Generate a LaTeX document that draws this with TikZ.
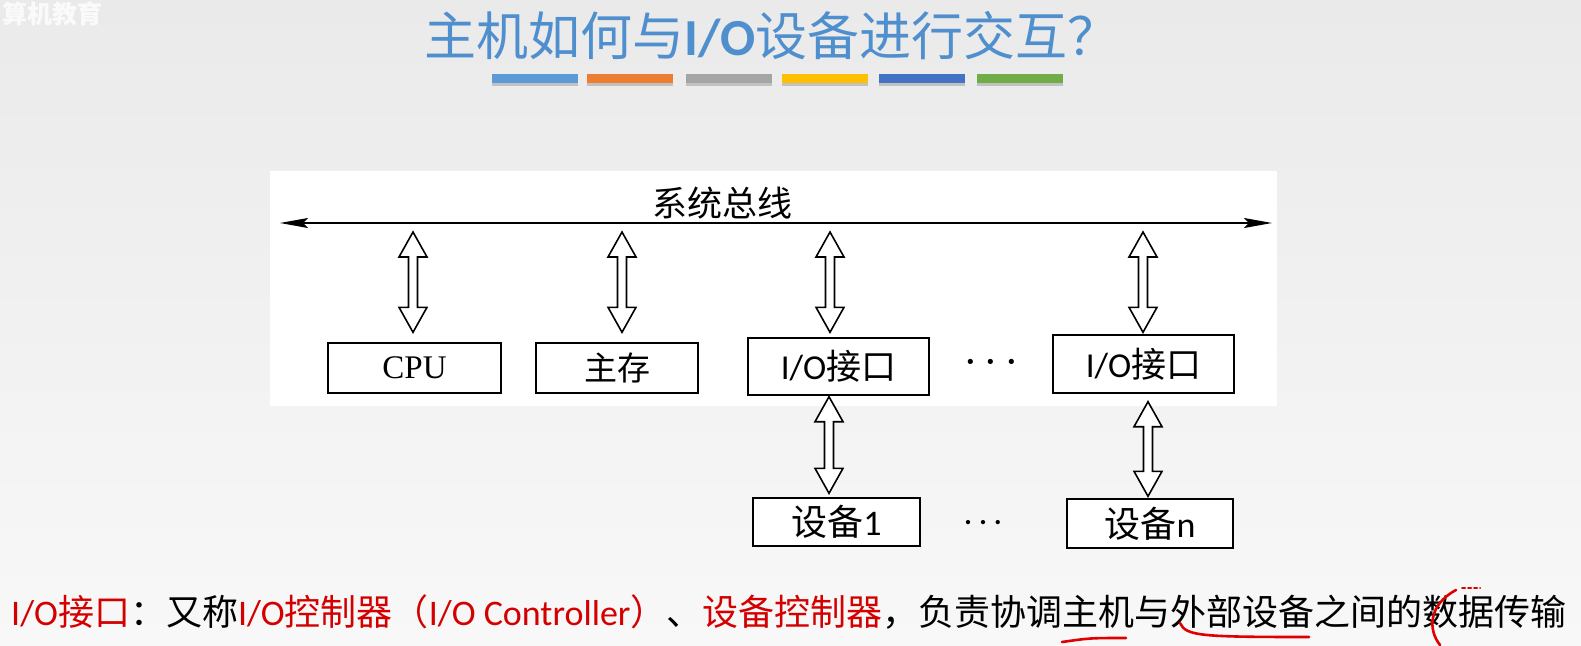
\documentclass[tikz,border=0pt]{standalone}
\usepackage{fontspec}
\setmainfont{Carlito}
\newfontfamily\cjk{Noto Sans CJK SC}
\newfontfamily\lat{Carlito}
\newfontfamily\tms{Liberation Serif}
\usetikzlibrary{arrows.meta,calc}

\definecolor{bgtop}{HTML}{EAEAEA}
\definecolor{bgbot}{HTML}{F8F8F8}
\definecolor{titleblue}{HTML}{4F8FCE}
\definecolor{barA}{HTML}{5B9BD5}
\definecolor{barB}{HTML}{ED7D31}
\definecolor{barC}{HTML}{A5A5A5}
\definecolor{barD}{HTML}{FFC000}
\definecolor{barE}{HTML}{4472C4}
\definecolor{barF}{HTML}{70AD47}
\definecolor{hlred}{HTML}{D40000}
\definecolor{penred}{HTML}{E00000}

% hollow double-headed arrow between two points on one vertical line
\newcommand\hollowarrow[2]{%
  \draw[hollow] let \p1=(#1), \p2=(#2) in
    (\x1,\y1) -- (\x1+14pt,\y1-25pt) -- (\x1+4.5pt,\y1-25pt)
    -- (\x1+4.5pt,\y2+25pt) -- (\x1+14pt,\y2+25pt) -- (\x1,\y2)
    -- (\x1-14pt,\y2+25pt) -- (\x1-4.5pt,\y2+25pt)
    -- (\x1-4.5pt,\y1-25pt) -- (\x1-14pt,\y1-25pt) -- cycle;}

\tikzset{
  unitbox/.style={draw, line width=1.4pt, fill=white, inner sep=0pt},
  hollow/.style={line width=1.6pt, fill=white, line join=miter},
  bar/.style={inner sep=0pt, minimum width=86pt, minimum height=9pt},
  busline/.style={line width=1.5pt,
    {Stealth[length=28pt,width=10pt,inset=5pt]}-{Stealth[length=28pt,width=10pt,inset=5pt]}},
  pen/.style={penred, line width=2.6pt, line cap=round, line join=round},
}

\begin{document}
\begin{tikzpicture}[x=1pt,y=-1pt]
\useasboundingbox (0,0) rectangle (1581,645);
\shade[top color=bgtop, bottom color=bgbot] (0,0) rectangle (1581,645);

% channel watermark
\node[anchor=west, inner sep=0pt, text=white, opacity=0.8, font=\cjk\bfseries\fontsize{25}{25}\selectfont]
  (mark) at (2,14) {算机教育};

% heading
\node[text=titleblue, inner sep=0pt, font=\fontsize{52}{52}\selectfont]
  (title) at (772,36) {{\cjk 主机如何与}{\lat\bfseries I/O}{\cjk 设备进行交互？}};

% coloured rule under the heading
\foreach \c/\x [count=\i] in {barA/535, barB/630, barC/728.5, barD/825, barE/922, barF/1020}{
  \fill[black, opacity=0.18] (\x-43,81) rectangle (\x+43,86);
  \node[bar, fill=\c] (bar\i) at (\x,78.5) {};
}

% white panel of the bus figure
\fill[white] (270,171) rectangle (1277,406);

% system bus
\coordinate (busL) at (280,223);
\coordinate (busR) at (1272,223);
\draw[busline] (busL) -- (busR);
\node[inner sep=0pt, font=\cjk\fontsize{35}{35}\selectfont] (buslabel) at (722,203) {系统总线};

% units on the bus
\node[unitbox, minimum width=173pt, minimum height=50pt, font=\tms\fontsize{33}{33}\selectfont]
  (cpu) at (414.5,368) {CPU};
\node[unitbox, minimum width=162pt, minimum height=50pt, font=\cjk\fontsize{33}{33}\selectfont]
  (mem) at (617,368) {主存};
\node[unitbox, minimum width=181pt, minimum height=57pt, font=\fontsize{35}{35}\selectfont]
  (io1) at (838.5,366.5) {{\lat I/O}{\cjk 接口}};
\node[unitbox, minimum width=181pt, minimum height=58pt, font=\fontsize{35}{35}\selectfont]
  (io2) at (1143.5,364) {{\lat I/O}{\cjk 接口}};
\node[inner sep=0pt, font=\tms\fontsize{44}{44}\selectfont] (dotsA) at (991,368)
  {·\hspace{6pt}·\hspace{6pt}·};

% devices
\node[unitbox, minimum width=167pt, minimum height=48pt, font=\fontsize{36}{36}\selectfont]
  (dev1) at (836.5,522) {{\cjk 设备}{\lat 1}};
\node[unitbox, minimum width=166pt, minimum height=49pt, font=\fontsize{36}{36}\selectfont]
  (devn) at (1150,523.5) {{\cjk 设备}{\lat n}};
\node[inner sep=0pt, font=\tms\fontsize{36}{36}\selectfont] (dotsB) at (983,527)
  {·\hspace{3pt}·\hspace{3pt}·};

% bus taps
\coordinate (tcpu) at (413,232);
\coordinate (tmem) at (622,232);
\coordinate (tio1) at (830,232);
\coordinate (tio2) at (1143,232);
\hollowarrow{tcpu}{$(tcpu |- cpu.north)+(0,-10)$}
\hollowarrow{tmem}{$(tmem |- mem.north)+(0,-10)$}
\hollowarrow{tio1}{$(tio1 |- io1.north)+(0,-5)$}
\hollowarrow{tio2}{$(tio2 |- io2.north)+(0,-2)$}

% interface to device links
\coordinate (lio1) at (829,0);
\coordinate (lio2) at (1148,0);
\hollowarrow{$(lio1 |- io1.south)+(0,1)$}{$(lio1 |- dev1.north)+(0,-4)$}
\hollowarrow{$(lio2 |- io2.south)+(0,8)$}{$(lio2 |- devn.north)+(0,-2)$}

% definition line
\node[anchor=west, inner sep=0pt, font=\fontsize{36}{36}\selectfont] (defn) at (11,612)
  {\textcolor{hlred}{{\lat I/O}\cjk 接口}{\cjk ：又称}\textcolor{hlred}{{\lat I/O}{\cjk 控制器（}{\lat I/O Controller}{\cjk ）}}{\cjk 、}\textcolor{hlred}{\cjk 设备控制器}{\cjk ，负责协调主机与外部设备之间的数据传输}};

% pen marks
\draw[pen] (1062,642) .. controls (1090,638) .. (1126,638);
\draw[pen] (1180,623) .. controls (1186,636) and (1200,637) .. (1309,637);
\draw[pen] (1456,590) .. controls (1428,605) and (1428,630) .. (1440,645);
\draw[pen, line width=2pt, dash pattern=on 3pt off 3pt] (1462,588) -- (1480,588);
\end{tikzpicture}
\end{document}
